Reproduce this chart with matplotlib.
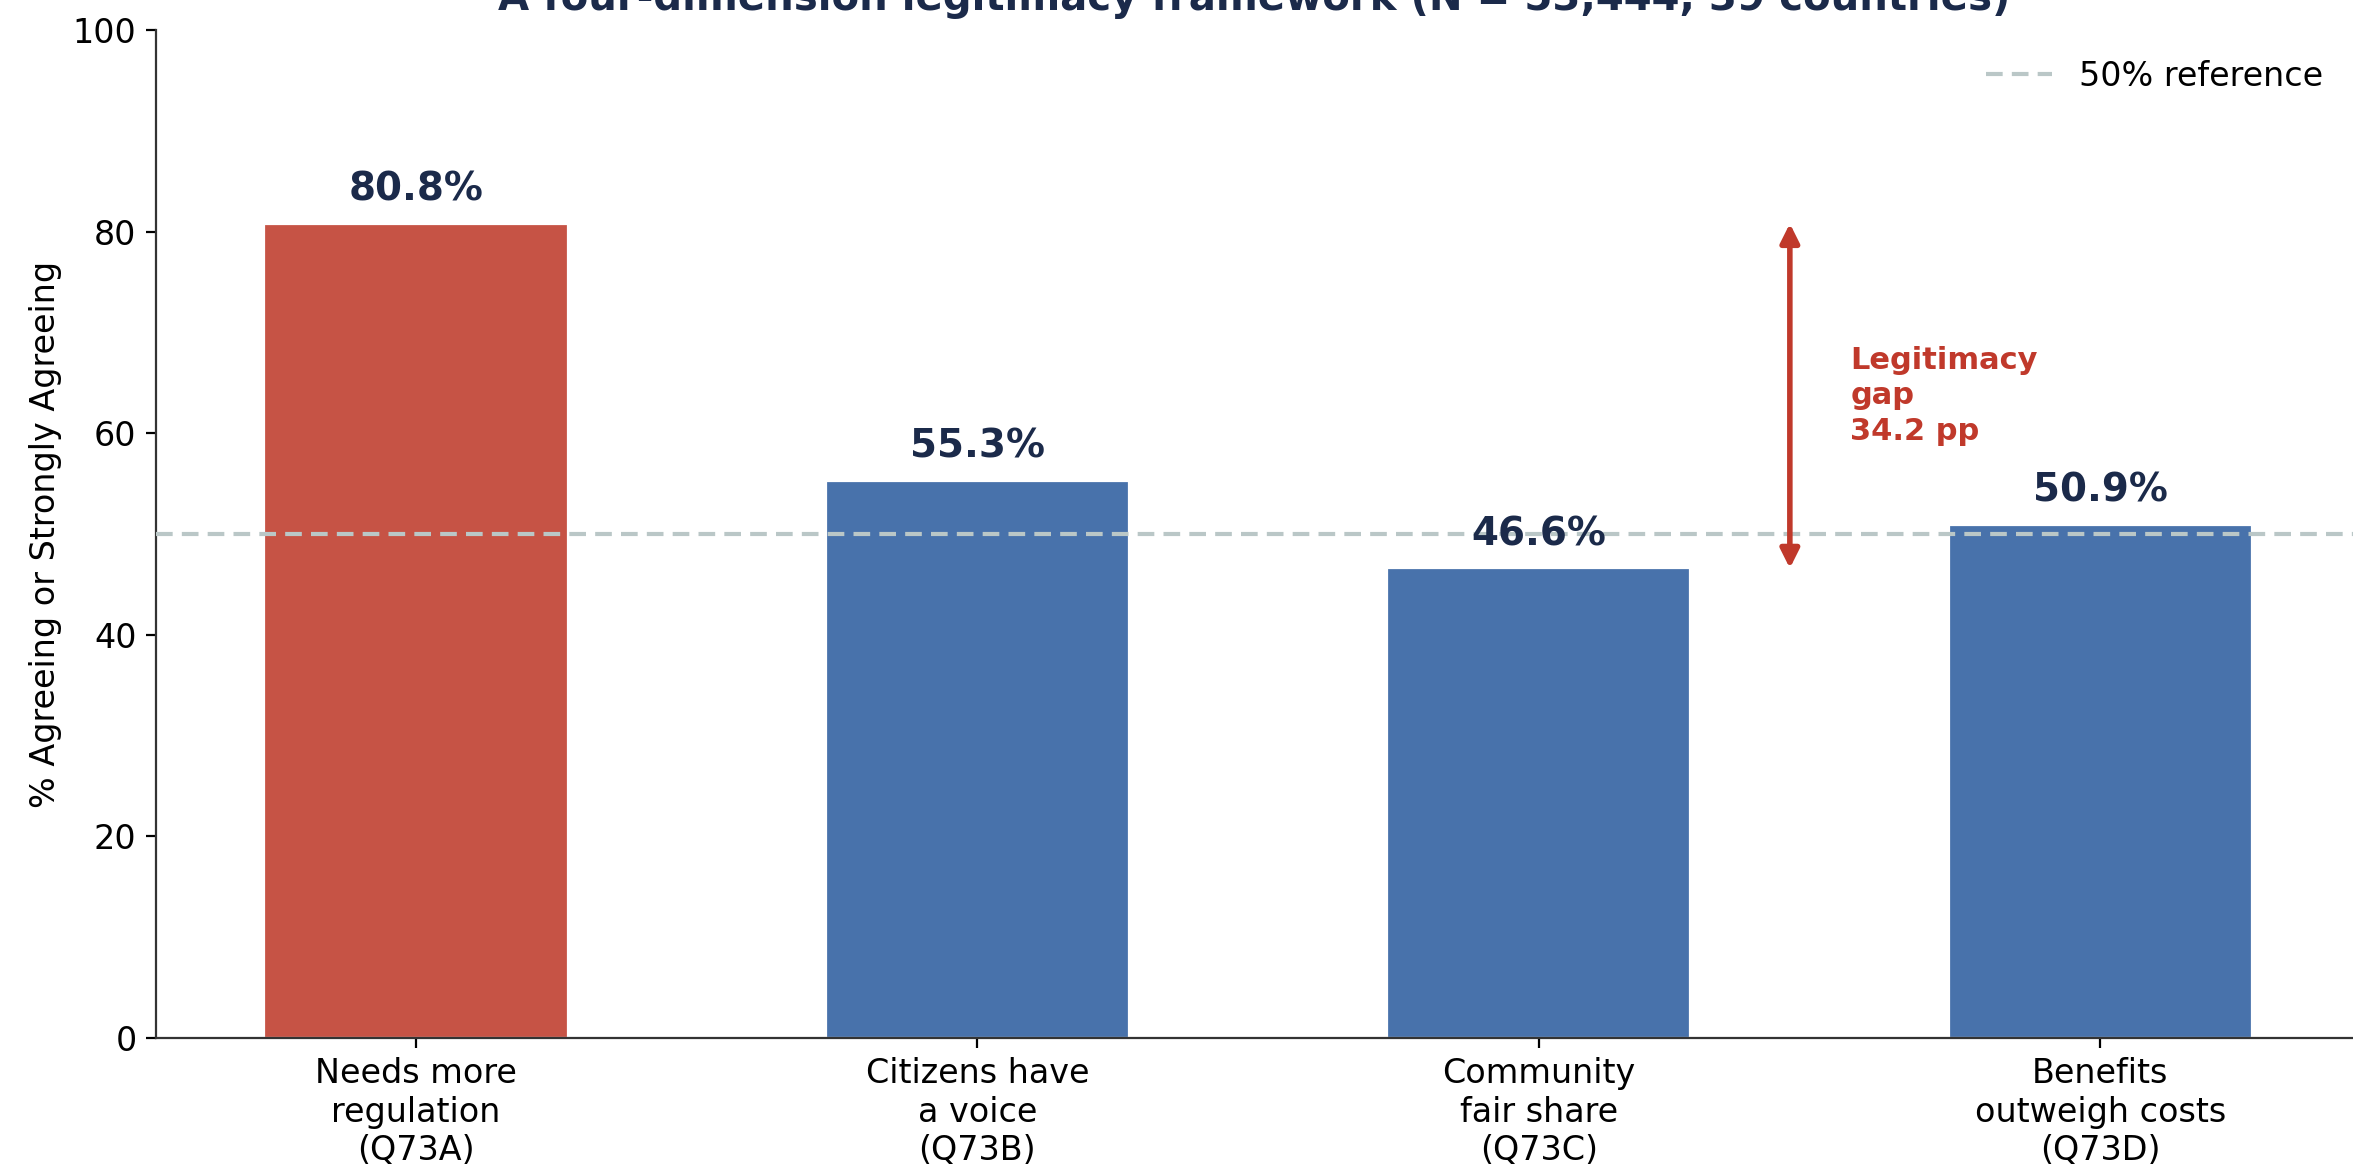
import numpy as np
import matplotlib
matplotlib.use('Agg')
import matplotlib.pyplot as plt

# Survey data
labels = ['Needs more\nregulation\n(Q73A)', 'Citizens have\na voice\n(Q73B)',
          'Community\nfair share\n(Q73C)', 'Benefits\noutweigh costs\n(Q73D)']
values = [80.8, 55.3, 46.6, 50.9]
title = 'A four-dimension legitimacy framework (N = 53,444, 39 countries)'

RED = '#C65345'
BLUE = '#4872AB'
NAVY = '#1B2A4A'
GAP_RED = '#C0392B'

fig = plt.figure(figsize=(2353 / 200, 1176 / 200), dpi=200)
ax = fig.add_axes([156 / 2353, 1 - 1038 / 1176, 1 - 156 / 2353, (1038 - 30) / 1176])

x = np.arange(len(values))
colors = [RED] + [BLUE] * (len(values) - 1)
ax.bar(x, values, width=0.54, color=colors, edgecolor='white', linewidth=0.8, zorder=2)

for xi, v in zip(x, values):
    ax.text(xi, v + 1.5, f'{v:.1f}%', ha='center', va='bottom',
            fontsize=14, fontweight='bold', color=NAVY, zorder=4)

ax.axhline(50, color='#BAC7C7', linestyle='--', linewidth=1.5, dashes=(4, 2.2),
           label='50% reference', zorder=3)

# legitimacy gap arrow between the highest and lowest bar
gap = values[0] - values[2]
ax.annotate('', xy=(2.447, values[0]), xytext=(2.447, values[2]),
            arrowprops=dict(arrowstyle='<|-|>', color=GAP_RED, lw=2,
                            mutation_scale=14, shrinkA=0, shrinkB=0), zorder=4)
ax.text(2.555, (values[0] + values[2]) / 2, f'Legitimacy\ngap\n{gap:.1f} pp',
        ha='left', va='center', fontsize=11, fontweight='bold', color=GAP_RED,
        linespacing=1.28)

ax.set_xticks(x)
ax.set_xticklabels(labels, fontsize=12)
ax.set_xlim(-0.463, 3.45)
ax.set_ylim(0, 100)
ax.set_yticks([0, 20, 40, 60, 80, 100])
ax.tick_params(axis='y', labelsize=12)
ax.set_ylabel('% Agreeing or Strongly Agreeing', fontsize=12)
for side in ['top', 'right']:
    ax.spines[side].set_visible(False)
ax.spines['left'].set_color('#333333')
ax.spines['bottom'].set_color('#333333')

ax.legend(loc='upper right', frameon=False, fontsize=12, bbox_to_anchor=(1.0, 1.0))

# title sits mostly above the visible area, as in the reference crop
fig.text((156 / 2353 + 1) / 2, 1 - 10 / 1176, title, ha='center', va='baseline',
         fontsize=14.5, fontweight='bold', color=NAVY)

fig.savefig('out.png', dpi=200)
